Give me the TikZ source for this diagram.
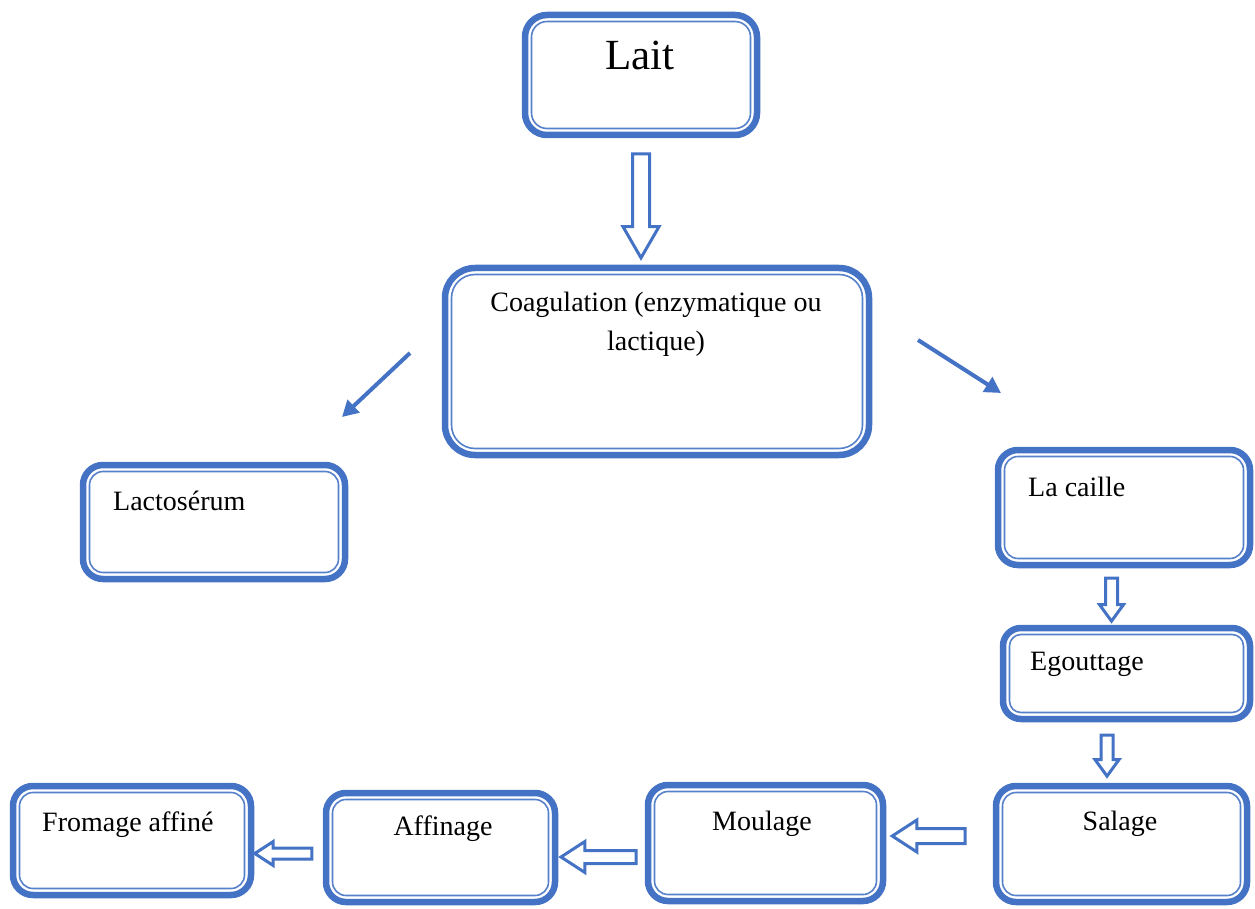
\documentclass[tikz,border=0pt]{standalone}
\usepackage{fontspec}
\setmainfont{Liberation Serif}
\usetikzlibrary{shapes.arrows,arrows.meta,calc}
\definecolor{wblue}{HTML}{4472C4}
\tikzset{
  box/.style={draw=wblue, line width=6.5pt, rounded corners=#1pt, fill=white,
    path picture={\draw[wblue!90, line width=1.6pt, rounded corners=#1pt-6.5pt]
      ([shift={(6.5pt,6.5pt)}]path picture bounding box.south west) rectangle
      ([shift={(-6.5pt,-6.5pt)}]path picture bounding box.north east);}},
  blk/.style n args={4}{single arrow, draw=wblue, line width=3pt, fill=white,
    inner xsep=0pt, inner ysep=#2pt, minimum width=0pt, minimum height=#1pt,
    single arrow head extend=#3pt, single arrow tip angle=#4, outer sep=0pt},
  thin/.style={draw=wblue, line width=4pt, -{Triangle[length=16pt,width=17pt]}},
  txt/.style={inner sep=0pt, font=\fontsize{28}{34}\selectfont},
}
\begin{document}
\begin{tikzpicture}[x=1pt,y=-1pt]
\useasboundingbox (0,0) rectangle (1255,909);
% boxes
\node[box=22, minimum width=232pt, minimum height=120pt] (lait) at (641,75) {};
\node[box=30, minimum width=424pt, minimum height=187pt] (coag) at (657,361.5) {};
\node[box=20, minimum width=262pt, minimum height=114pt] (lacto) at (214,522) {};
\node[box=20, minimum width=252pt, minimum height=115pt] (caille) at (1124,507.5) {};
\node[box=18, minimum width=247pt, minimum height=91pt] (egout) at (1126.5,673.5) {};
\node[box=20, minimum width=251pt, minimum height=116pt] (salage) at (1121.5,844) {};
\node[box=20, minimum width=235pt, minimum height=116pt] (moulage) at (765.5,843) {};
\node[box=20, minimum width=229pt, minimum height=109pt] (affinage) at (440.5,847.5) {};
\node[box=20, minimum width=238pt, minimum height=109pt] (fromage) at (132,840.5) {};
% texts
\node[txt, anchor=base, font=\fontsize{43}{50}\selectfont] (lait-t) at (640,70) {Lait};
\node[txt, anchor=base] (coag-t1) at (656,312) {Coagulation (enzymatique ou};
\node[txt, anchor=base] (coag-t2) at (656,350) {lactique)};
\node[txt, anchor=base west] (lacto-t) at (113,510) {Lactosérum};
\node[txt, anchor=base west] (caille-t) at (1028,496) {La caille};
\node[txt, anchor=base west] (egout-t) at (1030,670) {Egouttage};
\node[txt, anchor=base] (salage-t) at (1120,830) {Salage};
\node[txt, anchor=base] (moulage-t) at (762,830) {Moulage};
\node[txt, anchor=base] (affinage-t) at (443,835) {Affinage};
\node[txt, anchor=base west] (fromage-t) at (42,831) {Fromage affiné};
% block arrows
\node[blk={104}{7}{9.5}{60}, rotate=-90] (a1) at (641,198.5) {};
\node[blk={43}{4.5}{6}{72}, rotate=-90] (a2) at (1111.5,595.5) {};
\node[blk={41}{4.5}{6}{72}, rotate=-90] (a3) at (1107,751.5) {};
\node[blk={73}{6}{8.5}{66}, rotate=180] (a4) at (934.5,836) {};
\node[blk={75}{5}{9}{66}, rotate=180] (a5) at (603.5,857) {};
\node[blk={57}{4}{6.5}{66}, rotate=180] (a6) at (287.5,853.5) {};
% thin arrows
\coordinate (c1) at (410,353);
\coordinate (l1) at (342,417);
\coordinate (c2) at (918,340);
\coordinate (r2) at (1001,393);
\draw[thin] (c1) -- (l1);
\draw[thin] (c2) -- (r2);
\end{tikzpicture}
\end{document}
